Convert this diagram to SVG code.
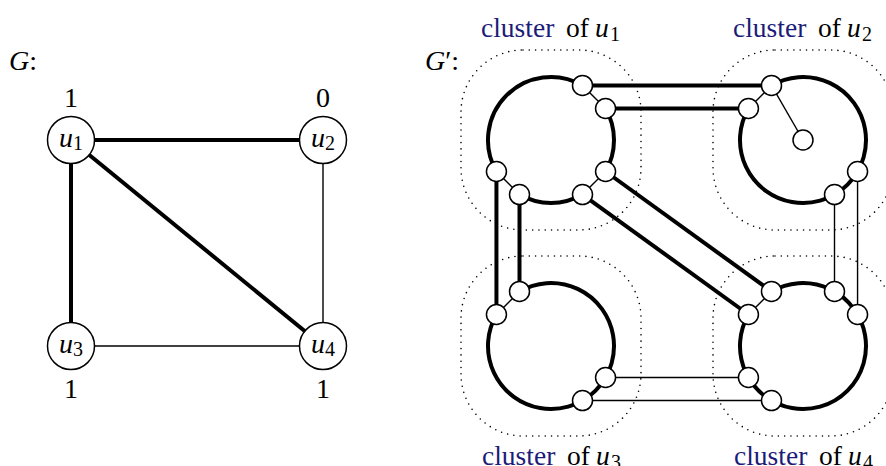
<svg xmlns="http://www.w3.org/2000/svg" width="886" height="466" viewBox="0 0 886 466">
<style>
.thick{stroke:#000;stroke-width:4;fill:none}
.thin{stroke:#000;stroke-width:1.4;fill:none}
.node{fill:#fff;stroke:#000;stroke-width:1.5}
.dot{fill:none;stroke:#000;stroke-width:1.6;stroke-dasharray:0 6.3;stroke-linecap:round}
text{font-family:"Liberation Serif","DejaVu Serif",serif;font-size:28px;fill:#000}
.lab{font-size:27.5px}
.it{font-style:italic}
.sub{font-size:20px}
.blue{fill:#1c1c78}
</style>
<rect width="886" height="466" fill="#fff"/>

<!-- titles -->
<text x="9" y="70"><tspan class="it">G</tspan>:</text>
<text x="425" y="70"><tspan class="it">G</tspan>′:</text>

<!-- numbers -->
<text x="71" y="107" text-anchor="middle">1</text>
<text x="323" y="107" text-anchor="middle">0</text>
<text x="71" y="398" text-anchor="middle">1</text>
<text x="323" y="398" text-anchor="middle">1</text>

<!-- cluster labels -->
<g id="label-c1"><text class="lab blue" x="481" y="37">cluster</text><text class="lab" x="566" y="37">of</text><text x="595" y="37" class="lab it">u</text><text x="610" y="41" class="sub">1</text></g>
<g id="label-c2"><text class="lab blue" x="733" y="37">cluster</text><text class="lab" x="818" y="37">of</text><text x="847" y="37" class="lab it">u</text><text x="862" y="41" class="sub">2</text></g>
<g id="label-c3"><text class="lab blue" x="482" y="465">cluster</text><text class="lab" x="567" y="465">of</text><text x="596" y="465" class="lab it">u</text><text x="611" y="469" class="sub">3</text></g>
<g id="label-c4"><text class="lab blue" x="734" y="465">cluster</text><text class="lab" x="819" y="465">of</text><text x="848" y="465" class="lab it">u</text><text x="863" y="469" class="sub">4</text></g>

<!-- dotted cluster outlines -->
<g id="cluster-outlines">
<rect class="dot" x="461" y="50" width="180" height="180" rx="62"/>
<rect class="dot" x="713" y="50" width="180" height="180" rx="62"/>
<rect class="dot" x="461" y="256" width="180" height="180" rx="62"/>
<rect class="dot" x="713" y="256" width="180" height="180" rx="62"/>
</g>

<!-- connectors -->
<g id="connectors">
<!-- left graph G -->
<line class="thick" x1="71" y1="140" x2="323" y2="140"/>
<line class="thick" x1="71" y1="140" x2="71" y2="346"/>
<line class="thick" x1="71" y1="140" x2="323" y2="346"/>
<line class="thin" x1="323" y1="140" x2="323" y2="346"/>
<line class="thin" x1="71" y1="346" x2="323" y2="346"/>

<!-- G' cluster 1 rings -->
<path class="thick" d="M605.56 108.5 A63 63 0 0 1 605.56 171.5"/>
<path class="thick" d="M582.5 194.56 A63 63 0 0 1 519.5 194.56"/>
<path class="thick" d="M496.44 171.5 A63 63 0 0 1 582.5 85.44"/>
<line class="thin" x1="582.5" y1="85.44" x2="605.56" y2="108.5"/>
<line class="thin" x1="605.56" y1="171.5" x2="582.5" y2="194.56"/>
<line class="thin" x1="519.5" y1="194.56" x2="496.44" y2="171.5"/>
<!-- cluster 2 ring -->
<path class="thick" d="M771.5 85.44 A63 63 0 1 1 748.44 108.5"/>
<line class="thin" x1="748.44" y1="108.5" x2="771.5" y2="85.44"/>
<line class="thin" x1="771.5" y1="85.44" x2="803" y2="140"/>
<!-- cluster 3 ring -->
<path class="thick" d="M519.5 291.44 A63 63 0 1 1 496.44 314.5"/>
<line class="thin" x1="496.44" y1="314.5" x2="519.5" y2="291.44"/>
<!-- cluster 4 ring -->
<path class="thick" d="M771.5 291.44 A63 63 0 1 1 748.44 314.5"/>
<line class="thin" x1="748.44" y1="314.5" x2="771.5" y2="291.44"/>

<!-- inter-cluster edges -->
<line class="thick" x1="582.5" y1="85.44" x2="771.5" y2="85.44"/>
<line class="thick" x1="605.56" y1="108.5" x2="748.44" y2="108.5"/>
<line class="thick" x1="496.44" y1="171.5" x2="496.44" y2="314.5"/>
<line class="thick" x1="519.5" y1="194.56" x2="519.5" y2="291.44"/>
<line class="thick" x1="605.56" y1="171.5" x2="771.5" y2="291.44"/>
<line class="thick" x1="582.5" y1="194.56" x2="748.44" y2="314.5"/>
<line class="thin" x1="834.5" y1="194.56" x2="834.5" y2="291.44"/>
<line class="thin" x1="857.56" y1="171.5" x2="857.56" y2="314.5"/>
<line class="thin" x1="605.56" y1="377.5" x2="748.44" y2="377.5"/>
<line class="thin" x1="582.5" y1="400.56" x2="771.5" y2="400.56"/>
</g>

<!-- left graph nodes -->
<g id="u1"><circle class="node" cx="71" cy="140" r="23.5"/><text x="71" y="147" text-anchor="middle"><tspan class="it">u</tspan><tspan class="sub" dy="3">1</tspan></text></g>
<g id="u2"><circle class="node" cx="323" cy="140" r="23.5"/><text x="323" y="147" text-anchor="middle"><tspan class="it">u</tspan><tspan class="sub" dy="3">2</tspan></text></g>
<g id="u3"><circle class="node" cx="71" cy="346" r="23.5"/><text x="71" y="353" text-anchor="middle"><tspan class="it">u</tspan><tspan class="sub" dy="3">3</tspan></text></g>
<g id="u4"><circle class="node" cx="323" cy="346" r="23.5"/><text x="323" y="353" text-anchor="middle"><tspan class="it">u</tspan><tspan class="sub" dy="3">4</tspan></text></g>

<!-- G' small nodes -->
<g id="cluster1">
<g id="c1a"><circle class="node" cx="582.5" cy="85.44" r="10"/></g>
<g id="c1b"><circle class="node" cx="605.56" cy="108.5" r="10"/></g>
<g id="c1c"><circle class="node" cx="605.56" cy="171.5" r="10"/></g>
<g id="c1d"><circle class="node" cx="582.5" cy="194.56" r="10"/></g>
<g id="c1e"><circle class="node" cx="519.5" cy="194.56" r="10"/></g>
<g id="c1f"><circle class="node" cx="496.44" cy="171.5" r="10"/></g>
</g>
<g id="cluster2">
<g id="c2a"><circle class="node" cx="771.5" cy="85.44" r="10"/></g>
<g id="c2b"><circle class="node" cx="748.44" cy="108.5" r="10"/></g>
<g id="c2c"><circle class="node" cx="857.56" cy="171.5" r="10"/></g>
<g id="c2d"><circle class="node" cx="834.5" cy="194.56" r="10"/></g>
<g id="c2e"><circle class="node" cx="803" cy="140" r="10"/></g>
</g>
<g id="cluster3">
<g id="c3a"><circle class="node" cx="519.5" cy="291.44" r="10"/></g>
<g id="c3b"><circle class="node" cx="496.44" cy="314.5" r="10"/></g>
<g id="c3c"><circle class="node" cx="605.56" cy="377.5" r="10"/></g>
<g id="c3d"><circle class="node" cx="582.5" cy="400.56" r="10"/></g>
</g>
<g id="cluster4">
<g id="c4a"><circle class="node" cx="771.5" cy="291.44" r="10"/></g>
<g id="c4b"><circle class="node" cx="748.44" cy="314.5" r="10"/></g>
<g id="c4c"><circle class="node" cx="834.5" cy="291.44" r="10"/></g>
<g id="c4d"><circle class="node" cx="857.56" cy="314.5" r="10"/></g>
<g id="c4e"><circle class="node" cx="748.44" cy="377.5" r="10"/></g>
<g id="c4f"><circle class="node" cx="771.5" cy="400.56" r="10"/></g>
</g>
</svg>
